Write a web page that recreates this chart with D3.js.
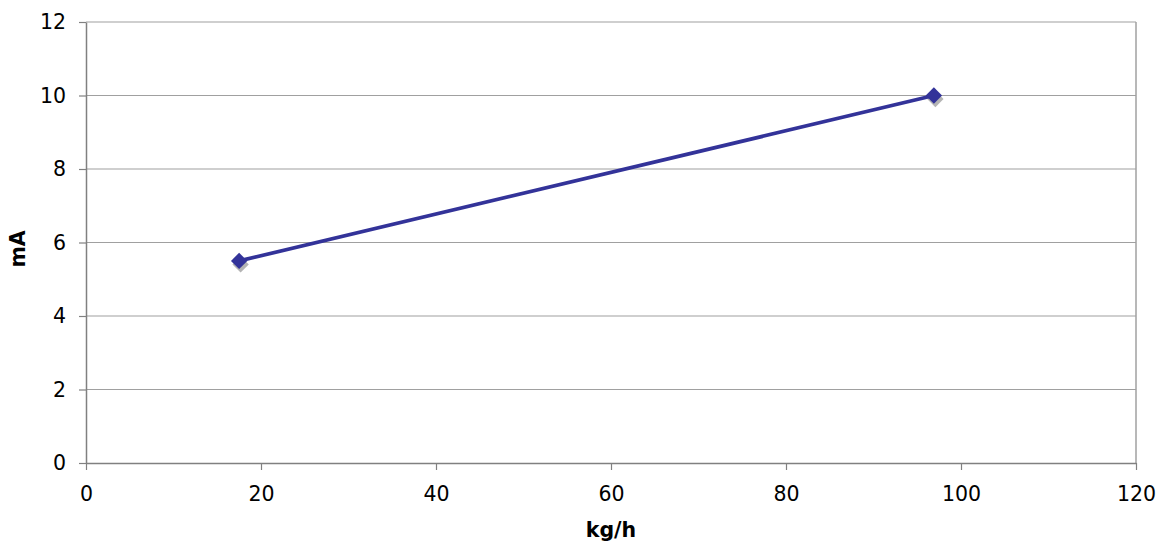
<!DOCTYPE html>
<html>
<head>
<meta charset="utf-8">
<script src="https://cdn.jsdelivr.net/npm/d3@7"></script>
<style>
  body { margin: 0; background: #fff; }
  svg text { font-family: "DejaVu Sans", Verdana, sans-serif; fill: #000; }
</style>
</head>
<body>
<svg id="chart" width="1163" height="543"></svg>
<script>
/* data */
const flowKgH = [17.5, 96.9];
const currentMA = [5.5, 10.0];
const xTicks = [0, 20, 40, 60, 80, 100, 120];
const yTicks = [0, 2, 4, 6, 8, 10, 12];

const svg = d3.select("#chart");
const margin = { top: 22, right: 27, bottom: 80, left: 86 };
const innerW = 1163 - margin.left - margin.right;
const innerH = 543 - margin.top - margin.bottom;
const g = svg.append("g").attr("transform", `translate(${margin.left},${margin.top})`);

const x = d3.scaleLinear().domain([0, 120]).range([0, innerW]);
const y = d3.scaleLinear().domain([0, 12]).range([innerH, 0]);

/* gridlines */
g.append("g").selectAll("line").data(yTicks.filter(d => d > 0)).join("line")
  .attr("x1", 0).attr("x2", innerW)
  .attr("y1", d => y(d)).attr("y2", d => y(d))
  .attr("stroke", "#a0a0a0").attr("stroke-width", 1.2);

/* right border */
g.append("line").attr("x1", innerW).attr("x2", innerW).attr("y1", 0).attr("y2", innerH)
  .attr("stroke", "#a0a0a0").attr("stroke-width", 1.5);

/* axes */
const xAxis = g.append("g").attr("transform", `translate(0,${innerH})`)
  .call(d3.axisBottom(x).tickValues(xTicks).tickSize(7).tickPadding(16).tickSizeOuter(0));
const yAxis = g.append("g")
  .call(d3.axisLeft(y).tickValues(yTicks).tickSize(7).tickPadding(13).tickSizeOuter(0));
[xAxis, yAxis].forEach(a => {
  a.select(".domain").attr("stroke", "#808080").attr("stroke-width", 1.5);
  a.selectAll(".tick line").attr("stroke", "#808080").attr("stroke-width", 1.2);
  a.selectAll(".tick text").attr("font-size", 20.5).attr("font-family", "DejaVu Sans, Verdana, sans-serif").attr("fill", "#000");
});

/* axis titles */
g.append("text").attr("x", innerW / 2).attr("y", innerH + 74)
  .attr("text-anchor", "middle").attr("font-size", 20.5).attr("font-weight", "bold").text("kg/h");
g.append("text").attr("transform", "rotate(-90)").attr("x", -(249 - margin.top)).attr("y", -61)
  .attr("text-anchor", "middle").attr("font-size", 20.5).attr("font-weight", "bold").text("mA");

const pts = flowKgH.map((v, i) => ({ x: v, y: currentMA[i] }));
const diamond = d3.symbol().type(d3.symbolDiamond2).size(170);

/* marker shadows */
g.selectAll("path.shadow").data(pts).join("path").attr("class", "shadow")
  .attr("d", diamond)
  .attr("transform", d => `translate(${x(d.x) + 1.5},${y(d.y) + 3.5})`)
  .attr("fill", "#b4b4b4");

/* line */
const line = d3.line().x(d => x(d.x)).y(d => y(d.y));
g.append("path").datum(pts).attr("d", line)
  .attr("fill", "none").attr("stroke", "#333399").attr("stroke-width", 3.8);

/* markers */
g.selectAll("path.pt").data(pts).join("path").attr("class", "pt")
  .attr("d", diamond)
  .attr("transform", d => `translate(${x(d.x)},${y(d.y)})`)
  .attr("fill", "#333399");
</script>
</body>
</html>
